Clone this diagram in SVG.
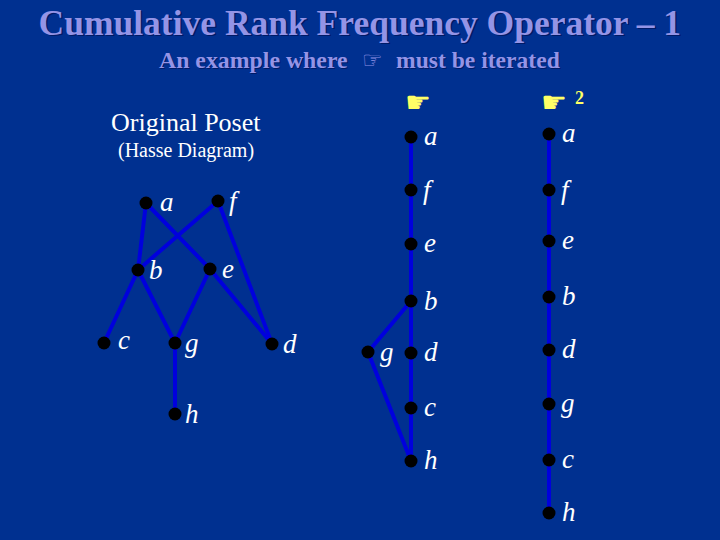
<svg xmlns="http://www.w3.org/2000/svg" width="720" height="540" viewBox="0 0 720 540">
<style>
.t{font-family:"Liberation Serif",serif;font-weight:bold;fill:#9494e6}
.s{font-family:"Liberation Serif",serif;font-weight:bold;fill:#001a66}
.l{font-family:"Liberation Serif",serif;fill:#fff}
.i{font-style:italic;font-size:27px}
.h{font-family:"DejaVu Sans",sans-serif;fill:#ffff66;font-size:29px}
#connectors line{stroke:#0000dd;stroke-width:4}
circle{fill:#000;r:6.5px}
</style>
<rect width="720" height="540" fill="#003090"/>
<g id="title">
<text class="s" x="40" y="36" font-size="35.5">Cumulative Rank Frequency Operator – 1</text>
<text class="t" x="38.5" y="35" font-size="35.5">Cumulative Rank Frequency Operator – 1</text>
</g>
<text class="s" x="160" y="69" font-size="23.8">An example where</text>
<text class="t" x="159" y="68" font-size="23.8">An example where</text>
<text x="362" y="68" font-family="DejaVu Sans,sans-serif" font-size="23" fill="#9494e6">☞</text>
<text class="s" x="397" y="69" font-size="23.6">must be iterated</text>
<text class="t" x="396" y="68" font-size="23.6">must be iterated</text>
<text class="h" x="405" y="112">☛</text>
<text class="h" x="541" y="112">☛</text>
<text x="575" y="104" font-family="Liberation Serif,serif" font-weight="bold" font-size="18" fill="#ffff66">2</text>
<text class="l" x="111" y="131" font-size="26">Original Poset</text>
<text class="l" x="118" y="157" font-size="20">(Hasse Diagram)</text>
<g id="connectors">
<line x1="146" y1="203" x2="138" y2="270"/>
<line x1="146" y1="203" x2="210" y2="269"/>
<line x1="218" y1="201" x2="138" y2="270"/>
<line x1="218" y1="201" x2="272" y2="344"/>
<line x1="138" y1="270" x2="104" y2="343"/>
<line x1="138" y1="270" x2="175" y2="343"/>
<line x1="210" y1="269" x2="175" y2="343"/>
<line x1="210" y1="269" x2="272" y2="344"/>
<line x1="175" y1="343" x2="175" y2="414"/>
<line x1="411" y1="137" x2="411" y2="461"/>
<line x1="411" y1="301" x2="368" y2="352"/>
<line x1="368" y1="352" x2="411" y2="461"/>
<line x1="549" y1="134" x2="549" y2="513"/>
</g>
<g id="p-a"><circle cx="146" cy="203"/><text class="l i" x="160" y="211">a</text></g>
<g id="p-f"><circle cx="218" cy="201"/><text class="l i" x="229" y="210">f</text></g>
<g id="p-b"><circle cx="138" cy="270"/><text class="l i" x="149" y="279">b</text></g>
<g id="p-e"><circle cx="210" cy="269"/><text class="l i" x="222" y="278">e</text></g>
<g id="p-c"><circle cx="104" cy="343"/><text class="l i" x="118" y="349">c</text></g>
<g id="p-g"><circle cx="175" cy="343"/><text class="l i" x="185" y="352">g</text></g>
<g id="p-d"><circle cx="272" cy="344"/><text class="l i" x="283" y="353">d</text></g>
<g id="p-h"><circle cx="175" cy="414"/><text class="l i" x="185" y="423">h</text></g>
<g id="c1-a"><circle cx="411" cy="137"/><text class="l i" x="424" y="145">a</text></g>
<g id="c1-f"><circle cx="411" cy="190"/><text class="l i" x="423" y="199">f</text></g>
<g id="c1-e"><circle cx="411" cy="244"/><text class="l i" x="424" y="252">e</text></g>
<g id="c1-b"><circle cx="411" cy="301"/><text class="l i" x="424" y="310">b</text></g>
<g id="c1-g"><circle cx="368" cy="352"/><text class="l i" x="380" y="361">g</text></g>
<g id="c1-d"><circle cx="411" cy="353"/><text class="l i" x="424" y="361">d</text></g>
<g id="c1-c"><circle cx="411" cy="408"/><text class="l i" x="424" y="416">c</text></g>
<g id="c1-h"><circle cx="411" cy="461"/><text class="l i" x="424" y="469">h</text></g>
<g id="c2-a"><circle cx="549" cy="134"/><text class="l i" x="562" y="142">a</text></g>
<g id="c2-f"><circle cx="549" cy="190"/><text class="l i" x="561" y="199">f</text></g>
<g id="c2-e"><circle cx="549" cy="241"/><text class="l i" x="562" y="249">e</text></g>
<g id="c2-b"><circle cx="549" cy="297"/><text class="l i" x="562" y="305">b</text></g>
<g id="c2-d"><circle cx="549" cy="350"/><text class="l i" x="562" y="358">d</text></g>
<g id="c2-g"><circle cx="549" cy="404"/><text class="l i" x="561" y="412">g</text></g>
<g id="c2-c"><circle cx="549" cy="460"/><text class="l i" x="562" y="468">c</text></g>
<g id="c2-h"><circle cx="549" cy="513"/><text class="l i" x="562" y="521">h</text></g>
</svg>
